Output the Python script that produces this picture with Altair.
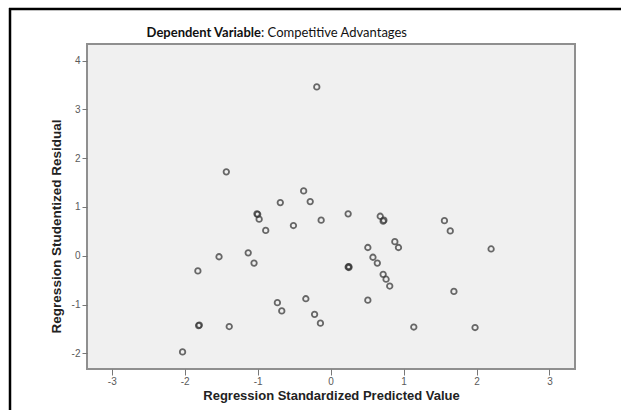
import altair as alt
import pandas as pd

# Regression Standardized Predicted Value
xs = [-0.19, -1.43, -0.37, -0.69, -0.28, -1.01, -1.00, -0.98, 0.24, -0.51, -0.13,
      -0.89, 0.68, 0.72, 0.73, 1.56, 1.64, 0.88, 0.93, 0.51, 0.58, 0.64, 2.20,
      -1.13, -1.53, -1.05, -1.82, 0.24, 0.25, 0.25, 0.72, 0.76, 0.81, 0.51, 1.69,
      -0.73, -0.67, -0.34, -0.22, -0.14, -1.81, -1.80, -1.39, -2.03, 1.14, 1.98]
# Regression Studentized Residual
ys = [3.46, 1.72, 1.33, 1.09, 1.11, 0.86, 0.85, 0.75, 0.86, 0.62, 0.73,
      0.52, 0.81, 0.71, 0.73, 0.72, 0.51, 0.29, 0.17, 0.17, -0.03, -0.15, 0.14,
      0.06, -0.02, -0.15, -0.31, -0.23, -0.22, -0.24, -0.38, -0.48, -0.62, -0.91, -0.73,
      -0.96, -1.13, -0.88, -1.20, -1.38, -1.43, -1.42, -1.45, -1.97, -1.46, -1.47]

x_ticks = [-3, -2, -1, 0, 1, 2, 3]
y_ticks = [-2, -1, 0, 1, 2, 3, 4]

title_bold = "Dependent Variable"
title_rest = ": Competitive Advantages"
x_title = "Regression Standardized Predicted Value"
y_title = "Regression Studentized Residual"

df = pd.DataFrame({"x": xs, "y": ys})
one = pd.DataFrame({"a": [0]})

W, H = 488, 325
hyphen = "datum.value < 0 ? '-' + abs(datum.value) : '' + datum.value"

points = alt.Chart(df).mark_point(
    shape="circle", filled=False, size=30, strokeWidth=1.8,
    color="#3a3a3a", opacity=0.75
).encode(
    x=alt.X("x:Q", scale=alt.Scale(domain=[-3.34, 3.35], nice=False, zero=False),
            axis=alt.Axis(values=x_ticks, labelExpr=hyphen, title=x_title, grid=False,
                          domain=False, tickSize=6, tickColor="#777", tickWidth=1,
                          labelPadding=1, labelFontSize=10, labelColor="#5a5a5a",
                          labelFont="Liberation Sans", titleFont="Liberation Sans",
                          titleFontSize=13, titleFontWeight="bold", titleColor="#222",
                          titlePadding=3)),
    y=alt.Y("y:Q", scale=alt.Scale(domain=[-2.32, 4.34], nice=False, zero=False),
            axis=alt.Axis(values=y_ticks, labelExpr=hyphen, title=y_title, grid=False,
                          domain=False, tickSize=5, tickColor="#777", tickWidth=1,
                          labelPadding=2, labelFontSize=10, labelColor="#5a5a5a",
                          labelFont="Liberation Sans", titleFont="Liberation Sans",
                          titleFontSize=13.5, titleFontWeight="bold", titleColor="#222",
                          titleX=-31, titleY=182, titleAlign="center",
                          titleBaseline="middle")),
)

t1 = alt.Chart(one).mark_text(
    text=title_bold, font="Lato", fontSize=13, fontWeight="bold",
    align="right", baseline="middle", color="#111"
).encode(x=alt.value(174), y=alt.value(-11))

t2 = alt.Chart(one).mark_text(
    text=title_rest, font="Lato", fontSize=13, fontWeight="normal",
    align="left", baseline="middle", color="#111"
).encode(x=alt.value(174), y=alt.value(-11))

top_rule = alt.Chart(one).mark_rule(color="black", strokeWidth=2.5).encode(
    x=alt.value(-78), x2=alt.value(534), y=alt.value(-35))
left_rule = alt.Chart(one).mark_rule(color="black", strokeWidth=2.5).encode(
    x=alt.value(-77), y=alt.value(-36), y2=alt.value(366))

chart = alt.layer(points, t1, t2, top_rule, left_rule).properties(
    width=W, height=H,
    autosize=alt.AutoSizeParams(type="none"),
    padding={"left": 87, "top": 44, "right": 46, "bottom": 41},
    background="white",
).configure_view(
    fill="#f0f0f0", stroke="#8f8f8f", strokeWidth=2
)

chart.save("out.html", embed_options={"renderer": "svg", "actions": False})
